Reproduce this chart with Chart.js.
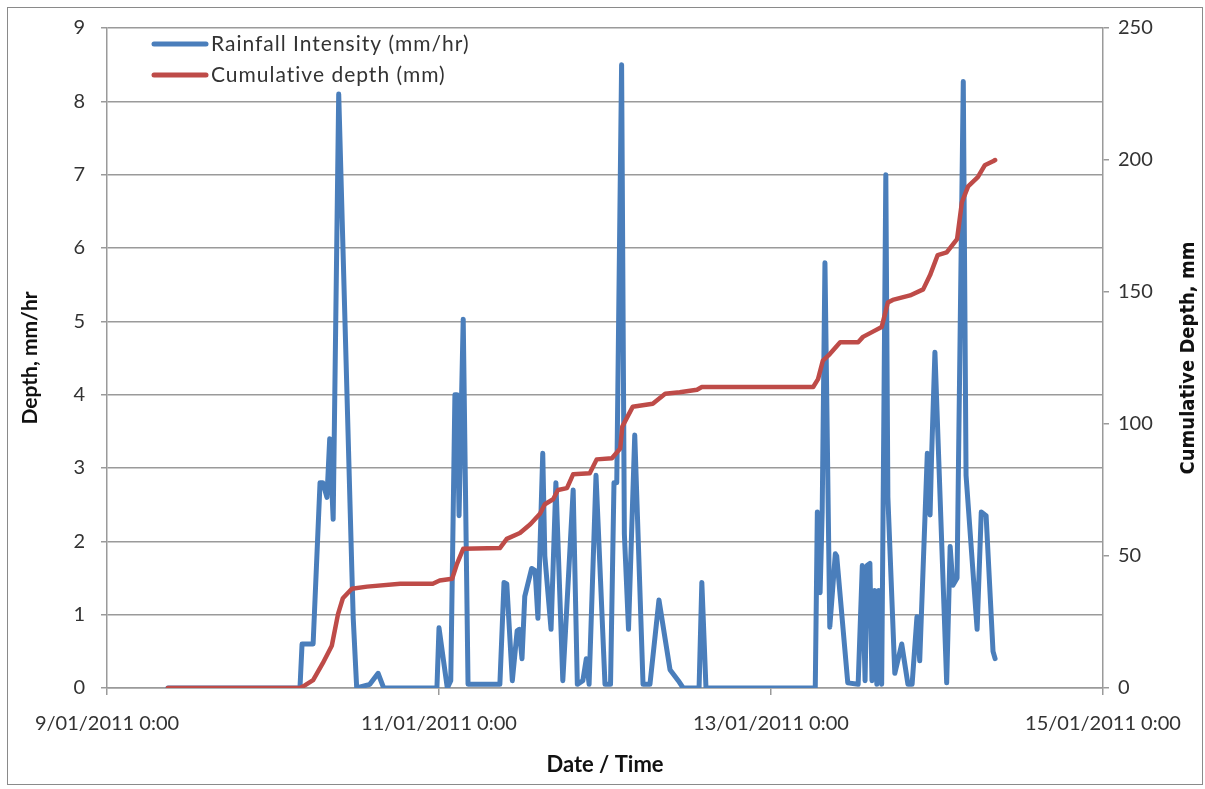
<!DOCTYPE html>
<html>
<head>
<meta charset="utf-8">
<script src="https://cdn.jsdelivr.net/npm/chart.js@4.4.1/dist/chart.umd.min.js"></script>
<style>
  html, body { margin: 0; padding: 0; background: #fff; }
  #wrap { position: relative; width: 1205px; height: 789px; }
</style>
</head>
<body>
<div id="wrap"><canvas id="rainChart" width="1205" height="789"></canvas></div>
<script>
// x values are hours since 9/01/2011 0:00
const dateTickLabels = ["9/01/2011 0:00", "11/01/2011 0:00", "13/01/2011 0:00", "15/01/2011 0:00"];

const rainHours = [
  8.8, 27.9, 28.2, 29.8, 30.8, 31.2, 31.8, 32.2, 32.7, 33.5, 35.4, 35.6, 36.1, 38.0, 39.2, 40.0,
  47.7, 48.0, 49.2, 49.7, 50.3, 50.6, 50.9, 51.5, 52.2, 56.8, 57.4, 57.8, 58.6, 59.3, 59.6, 60.0,
  60.4, 61.4, 61.9, 62.3, 63.0, 63.3, 64.2, 64.9, 65.9, 67.4, 68.0, 68.8, 69.3, 69.7, 70.7, 72.0,
  72.8, 73.3, 73.7, 74.4, 74.8, 75.4, 76.3, 77.5, 78.5, 79.8, 81.4, 82.6, 83.3, 85.6, 86.0, 86.6,
  102.4, 102.7, 103.1, 103.4, 103.8, 104.5, 105.3, 105.5, 107.1, 108.6, 109.2, 109.6, 109.9, 110.3,
  110.6, 111.0, 111.3, 111.6, 112.0, 112.6, 112.9, 113.9, 114.9, 115.8, 116.4, 117.1, 117.5, 118.6,
  119.0, 119.2, 119.7, 121.4, 121.9, 122.3, 122.9, 123.8, 124.2, 125.8, 126.4, 127.1, 128.1, 128.4
];
const rainValues = [
  0, 0, 0.6, 0.6, 2.8, 2.8, 2.6, 3.4, 2.3, 8.1, 1.6, 0.95, 0, 0.05, 0.2, 0,
  0, 0.82, 0, 0.1, 4.0, 4.0, 2.35, 5.03, 0.05, 0.05, 1.44, 1.42, 0.1, 0.78, 0.8, 0.4,
  1.25, 1.63, 1.6, 0.95, 3.2, 1.8, 0.8, 2.8, 0.1, 2.7, 0.05, 0.1, 0.4, 0.05, 2.9, 0.05,
  0.05, 2.8, 2.8, 8.5, 2.1, 0.8, 3.45, 0.05, 0.05, 1.2, 0.25, 0.1, 0, 0, 1.44, 0,
  0, 2.4, 1.3, 2.4, 5.8, 0.83, 1.83, 1.8, 0.07, 0.05, 1.67, 0.1, 1.67, 1.7,
  0.1, 1.33, 0.05, 1.33, 0.05, 7.0, 2.6, 0.2, 0.6, 0.05, 0.05, 0.97, 0.37, 3.2,
  2.36, 3.1, 4.58, 0.07, 1.93, 1.4, 1.5, 8.27, 2.9, 0.8, 2.4, 2.35, 0.5, 0.4
];

const cumHours = [
  8.8, 27.9, 28.6, 29.8, 31.2, 32.5, 33.4, 34.1, 35.4, 37.6, 42.4, 47.1, 48.1, 49.9, 50.6, 51.5,
  56.8, 57.8, 59.7, 61.2, 62.6, 63.3, 64.5, 65.2, 66.5, 67.4, 69.8, 70.8, 73.0, 74.2, 74.5, 76.0,
  78.9, 80.7, 82.8, 85.3, 86.0, 102.1, 102.8, 103.5, 104.5, 106.0, 108.6, 109.3, 110.6, 112.0,
  112.9, 113.6, 116.1, 118.0, 119.0, 120.1, 121.4, 122.9, 123.6, 124.5, 125.9, 126.9, 128.1, 128.4
];
const cumValues = [
  0, 0, 1, 3, 9.4, 16, 28, 34, 37.6, 38.4, 39.5, 39.5, 40.7, 41.4, 47, 52.7,
  53, 56.5, 58.7, 62, 66, 69.6, 71.5, 75, 75.7, 81, 81.3, 86.6, 87, 90.7, 99, 106.5,
  107.7, 111.5, 112, 113, 114, 114, 117, 124, 126.5, 131, 131, 133, 134.8, 136.7,
  146, 147, 148.7, 151, 156.4, 164, 165, 170, 184, 190, 193.5, 198, 199.5, 200
];

const BLUE = "#4A7EBB";
const RED = "#BE4B48";
const GRID = "#9a9a9a";
const TEXT = "#333333";

function toPoints(xs, ys) {
  return xs.map((x, i) => ({ x: x, y: ys[i] }));
}

// legend drawn inside the plot, top-left, like the Excel original
const innerLegend = {
  id: "innerLegend",
  afterDraw(chart) {
    const ctx = chart.ctx;
    const rows = [44, 75];
    ctx.save();
    chart.data.datasets.forEach((ds, i) => {
      const y = rows[i];
      ctx.strokeStyle = ds.borderColor;
      ctx.lineWidth = 5;
      ctx.lineCap = "round";
      ctx.beginPath();
      ctx.moveTo(154, y);
      ctx.lineTo(206, y);
      ctx.stroke();
      ctx.fillStyle = TEXT;
      ctx.font = "21px Lato";
      ctx.letterSpacing = "1px";
      ctx.textBaseline = "middle";
      ctx.fillText(ds.label, 211, y);
    });
    ctx.restore();
  },
};

// right axis title reads bottom-to-top in the original
const rightTitle = {
  id: "rightTitle",
  afterDraw(chart) {
    const ctx = chart.ctx;
    const a = chart.chartArea;
    ctx.save();
    ctx.translate(1189, (a.top + a.bottom) / 2);
    ctx.rotate(-Math.PI / 2);
    ctx.fillStyle = "#111";
    ctx.font = "bold 20px 'Liberation Sans Narrow', 'DejaVu Sans Condensed'";
    ctx.textAlign = "center";
    ctx.textBaseline = "middle";
    ctx.fillText("Cumulative Depth, mm", 0, 0);
    ctx.restore();
  },
};

const frame = {
  id: "frame",
  afterDraw(chart) {
    const ctx = chart.ctx;
    ctx.save();
    ctx.strokeStyle = "#8a8a8a";
    ctx.lineWidth = 1;
    ctx.strokeRect(7.5, 7.5, 1195, 777);
    ctx.restore();
  },
};

const ctx = document.getElementById("rainChart");
new Chart(ctx, {
  type: "line",
  data: {
    datasets: [
      {
        label: "Rainfall Intensity (mm/hr)",
        data: toPoints(rainHours, rainValues),
        yAxisID: "y",
        borderColor: BLUE,
        borderWidth: 5,
        borderJoinStyle: "round",
        borderCapStyle: "round",
        pointRadius: 0,
        tension: 0,
        order: 2,
      },
      {
        label: "Cumulative depth (mm)",
        data: toPoints(cumHours, cumValues),
        yAxisID: "y1",
        borderColor: RED,
        borderWidth: 4.5,
        borderJoinStyle: "round",
        borderCapStyle: "round",
        pointRadius: 0,
        tension: 0,
        order: 1,
      },
    ],
  },
  options: {
    responsive: false,
    animation: false,
    layout: { padding: { top: 24, left: 0, right: 0, bottom: 0 } },
    plugins: {
      legend: { display: false },
      tooltip: { enabled: false },
    },
    scales: {
      x: {
        type: "linear",
        min: 0,
        max: 144,
        afterBuildTicks(scale) {
          scale.ticks = dateTickLabels.map((_, i) => ({ value: i * 48 }));
        },
        ticks: {
          color: TEXT,
          font: { family: "Lato", size: 20 },
          padding: 17,
          maxRotation: 0,
          autoSkip: false,
          callback: (val, i) => dateTickLabels[i],
        },
        grid: { drawOnChartArea: false, color: GRID, tickLength: 7, lineWidth: 1.5 },
        border: { color: GRID, width: 1.5 },
        title: {
          display: true,
          text: "Date / Time",
          color: "#111",
          font: { family: "Lato", size: 22, weight: "bold" },
          padding: { top: 0, bottom: 11 },
        },
        afterFit(scale) { scale.height = 101; },
      },
      y: {
        position: "left",
        min: 0,
        max: 9,
        ticks: {
          stepSize: 1,
          color: TEXT,
          font: { family: "Lato", size: 20 },
          padding: 16,
        },
        grid: { color: GRID, lineWidth: 1.5, tickLength: 6 },
        border: { color: GRID, width: 1.5 },
        title: {
          display: true,
          text: "Depth, mm/hr",
          color: "#111",
          font: { family: "Lato", size: 21, weight: "bold" },
          padding: { top: 18, bottom: 0 },
        },
        afterFit(scale) { scale.width = 107; },
      },
      y1: {
        position: "right",
        min: 0,
        max: 250,
        ticks: {
          stepSize: 50,
          color: TEXT,
          font: { family: "Lato", size: 20 },
          padding: 9,
        },
        grid: { drawOnChartArea: false, color: GRID, lineWidth: 1.5, tickLength: 6 },
        border: { color: GRID, width: 1.5 },
        afterFit(scale) { scale.width = 102; },
      },
    },
  },
  plugins: [innerLegend, rightTitle, frame],
});
</script>
</body>
</html>
